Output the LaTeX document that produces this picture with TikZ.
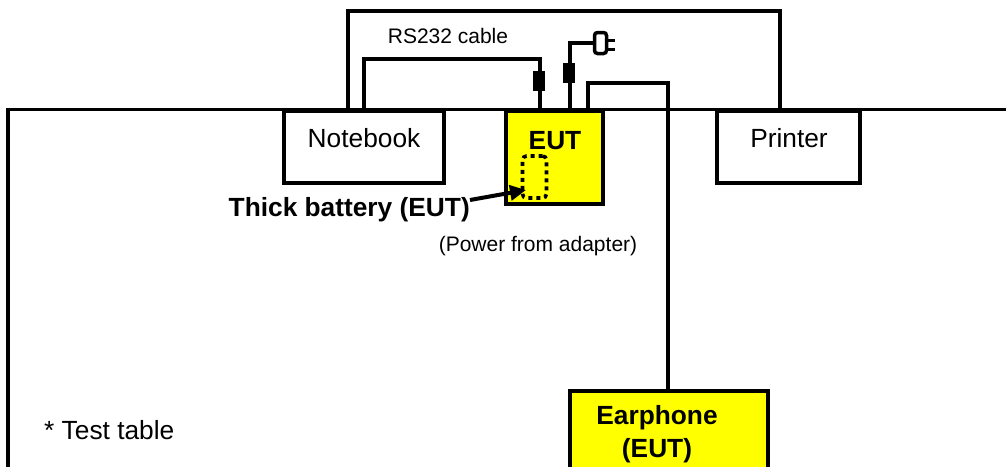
\documentclass[tikz,border=0pt]{standalone}
\usepackage{fontspec}
\setmainfont{Liberation Sans}
\usepackage{tikz}
\usetikzlibrary{arrows.meta}

\definecolor{eutyellow}{RGB}{255,255,0}
\tikzset{
    unit/.style={draw,line width=3.4pt,anchor=north west,inner sep=0pt,outer sep=0pt},
    cable/.style={line width=3.8pt},
    ferrite/.style={fill=black,minimum width=12pt,minimum height=20pt,inner sep=0pt},
    bigtext/.style={font=\fontsize{26.3}{30}\selectfont,inner sep=0pt,align=center},
    boldtext/.style={bigtext,font=\fontsize{26.3}{30}\selectfont\bfseries},
    smalltext/.style={font=\fontsize{21}{25}\selectfont,inner sep=0pt}
}

\begin{document}
\begin{tikzpicture}[x=1pt,y=-1pt]
    \useasboundingbox (0,0) rectangle (1006,466);
    \clip (0,0) rectangle (1006,466);
    \pgfmathsetmacro{\h}{72}

    % table
    \draw[line width=3.3pt] (8,520) -- (8,109.5) -- (1060,109.5);

    % units on the table
    \node[unit,minimum width=160pt,minimum height=\h pt] (notebook) at (284,111) {};
    \node[unit,fill=eutyellow,minimum width=97pt,minimum height=93pt] (eut) at (506,111) {};
    \node[unit,minimum width=143pt,minimum height=\h pt] (printer) at (717,111) {};
    \node[unit,fill=eutyellow,minimum width=198pt,minimum height=120pt] (earphone) at (570,391) {};

    \node[bigtext] (notebooktxt) at (364,138) {Notebook};
    \node[bigtext] (printertxt) at (789,138) {Printer};
    \node[boldtext] (euttxt) at (555,141) {EUT};
    \node[boldtext,text width=190pt,font=\fontsize{26.3}{33}\selectfont\bfseries] (earphonetxt) at (657,434) {Earphone\\(EUT)};

    % thick battery
    \node[draw,dash pattern=on 4pt off 4pt,line width=3.6pt,rounded corners=4pt,minimum width=24pt,minimum height=42pt,anchor=north west,inner sep=0pt,outer sep=0pt] (battery) at (522.5,156) {};
    \node[boldtext,anchor=east] (batterytxt) at (470,210) {Thick battery (EUT)};
    \coordinate (batterytip) at (526,190);
    \draw[line width=4pt,-{Stealth[inset=0pt,length=16pt,width=15pt]}] (batterytxt.east) ++(0,-10) -- (batterytip);

    % cables
    \coordinate (printleft) at (348,11);
    \coordinate (printright) at (780,11);
    \draw[cable] (notebook.north -| printleft) -- (printleft) -- (printright) -- (printer.north -| printright);

    \coordinate (rsleft) at (364,59);
    \coordinate (rsright) at (540,59);
    \draw[cable] (notebook.north -| rsleft) -- (rsleft) -- (rsright) -- (eut.north -| rsright);
    \node[ferrite] (rsferrite) at (539,81) {};

    \coordinate (mainscorner) at (570,43);
    \node[draw,line width=3.5pt,rounded corners=3pt,minimum width=12pt,minimum height=21pt,inner sep=0pt,outer sep=0pt] (plug) at (600.5,43) {};
    \draw[cable] (eut.north -| mainscorner) -- (mainscorner) -- (plug.west);
    \node[ferrite] (mainsferrite) at (569,73) {};
    \foreach \y in {40,49}{
        \draw[line width=3pt] (plug.east |- 0,\y) -- ++(8,0);
    }

    \coordinate (earleft) at (588,83);
    \coordinate (earright) at (668,83);
    \draw[cable] (eut.north -| earleft) -- (earleft) -- (earright) -- (earphone.north -| earright);

    % labels
    \node[smalltext] (rstxt) at (448,36) {RS232 cable};
    \node[smalltext] (powertxt) at (538,246) {(Power from adapter)};
    \node[bigtext,anchor=west] (tabletxt) at (44,430) {* Test table};
\end{tikzpicture}
\end{document}
